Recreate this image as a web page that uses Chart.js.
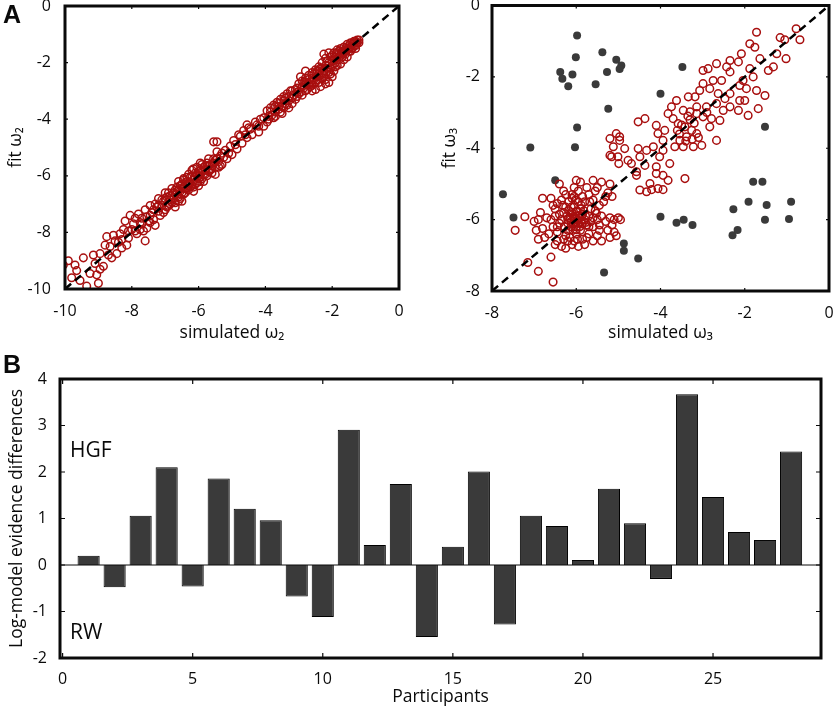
<!DOCTYPE html>
<html>
<head>
<meta charset="utf-8">
<script src="https://cdn.jsdelivr.net/npm/chart.js@4.4.1/dist/chart.umd.min.js"></script>
<style>
  body { margin: 0; background: #fff; width: 837px; height: 711px; position: relative; overflow: hidden; font-family: "Open Sans", sans-serif; }
  canvas { position: absolute; }
  .lbl { position: absolute; color: #0a0a0a; line-height: 1; }
  .panel { font-family: "Liberation Sans", Arial, sans-serif; font-weight: bold; font-size: 25px; }
  .model { font-size: 21px; }
</style>
</head>
<body>
<canvas id="omega2" width="420" height="345" style="left:0;top:0"></canvas>
<canvas id="omega3" width="417" height="345" style="left:420px;top:0"></canvas>
<canvas id="evidence" width="837" height="371" style="left:0;top:340px"></canvas>
<div class="lbl panel" style="left:3px;top:2px">A</div>
<div class="lbl panel" style="left:3px;top:352px">B</div>
<div class="lbl model" style="left:70px;top:439px">HGF</div>
<div class="lbl model" style="left:70px;top:621px">RW</div>
<script>
// panel A, left: simulated vs fitted omega2
const omega2Points = [
  [-10.05,-9.15],[-9.9,-9.0],[-9.8,-9.6],[-9.65,-9.35],[-9.35,-9.9],[-9.0,-9.8],[-9.45,-8.9],[-9.1,-9.1],
  [-8.85,-9.2],[-8.95,-8.75],[-8.65,-8.5],[-8.75,-8.15],[-8.45,-8.75],[-9.55,-9.7],[-9.25,-9.45],[-9.7,-9.15],
  [-9.15,-8.8],[-8.6,-8.9],[-8.8,-8.45],[-8.5,-8.3],[-8.3,-8.55],[-8.35,-8.05],[-8.2,-7.6],[-8.1,-8.2],
  [-8.25,-7.9],[-7.95,-7.7],[-7.85,-8.05],[-7.6,-8.3],[-7.7,-7.5],[-7.8,-7.35],[-7.5,-7.6],[-7.55,-7.85],
  [-7.4,-7.3],[-7.35,-7.55],[-7.25,-7.1],[-7.6,-7.2],[-8.05,-7.4],[-7.9,-7.95],[-7.3,-7.75],[-7.15,-7.4],
  [-7.05,-6.9],[-7.0,-7.2],[-6.9,-7.05],[-6.85,-6.7],[-6.8,-6.95],[-6.7,-6.5],[-6.75,-6.8],[-6.6,-6.75],
  [-6.65,-6.4],[-6.55,-6.55],[-6.5,-6.3],[-6.45,-6.65],[-6.4,-6.45],[-6.35,-6.2],[-6.3,-6.5],[-6.25,-6.05],
  [-6.2,-6.35],[-6.15,-6.15],[-6.1,-5.9],[-6.05,-6.25],[-6.0,-6.0],[-5.95,-5.8],[-5.9,-6.1],[-5.85,-5.7],
  [-5.8,-5.95],[-5.75,-5.55],[-5.7,-5.85],[-5.65,-5.6],[-5.6,-5.9],[-5.55,-5.4],[-5.5,-5.7],[-5.45,-5.15],
  [-5.4,-5.5],[-5.35,-5.3],[-5.3,-5.6],[-5.2,-5.1],[-5.15,-5.4],[-5.05,-4.95],[-5.0,-5.25],[-4.95,-4.75],
  [-4.85,-5.05],[-4.8,-4.55],[-4.7,-4.85],[-4.65,-4.4],[-4.55,-4.65],[-4.5,-4.3],[-4.4,-4.55],[-4.3,-4.1],
  [-4.2,-4.45],[-4.15,-4.0],[-4.05,-4.25],[-3.95,-3.7],[-3.9,-4.0],[-3.85,-3.6],[-3.8,-3.85],[-3.75,-3.5],
  [-3.7,-3.75],[-3.65,-3.4],[-3.6,-3.65],[-3.55,-3.3],[-3.5,-3.55],[-3.45,-3.2],[-3.4,-3.45],[-3.35,-3.1],
  [-3.3,-3.35],[-3.25,-3.0],[-3.2,-3.25],[-3.1,-2.95],[-3.05,-3.2],[-3.0,-2.75],[-2.95,-3.05],[-2.9,-2.65],
  [-2.85,-2.9],[-2.8,-2.55],[-2.75,-2.8],[-2.7,-2.45],[-2.65,-2.7],[-2.6,-2.35],[-2.55,-2.6],[-2.5,-2.25],
  [-2.45,-2.5],[-2.4,-2.15],[-2.35,-2.45],[-2.3,-2.0],[-2.25,-2.3],[-2.2,-1.85],[-2.15,-2.2],[-2.1,-2.7],
  [-2.05,-1.8],[-2.0,-2.1],[-1.95,-1.65],[-1.9,-2.0],[-1.85,-1.55],[-1.8,-1.9],[-1.75,-1.5],[-1.7,-1.8],
  [-1.65,-1.45],[-1.6,-1.7],[-1.55,-1.35],[-1.5,-1.6],[-1.45,-1.3],[-1.4,-1.5],[-1.35,-1.25],[-1.3,-1.4],
  [-1.25,-1.2],[-1.2,-1.3],
  [-6.9,-6.6],[-6.7,-7.1],[-6.5,-6.9],[-6.35,-6.05],[-6.2,-5.8],[-6.05,-5.7],[-6.0,-6.35],[-5.85,-6.2],
  [-5.95,-5.55],[-6.15,-6.55],[-6.3,-5.95],[-6.45,-6.1],[-6.6,-6.2],[-6.8,-6.45],[-7.0,-6.6],[-7.1,-7.05],
  [-7.2,-6.8],[-7.45,-7.05],[-5.7,-5.4],[-5.6,-5.65],[-5.5,-5.95],[-5.25,-5.35],[-5.45,-4.8],[-5.55,-4.8],
  [-4.55,-4.2],[-4.2,-4.25],[-4.6,-4.55],[-4.75,-4.6],[-3.9,-3.9],[-3.75,-3.95],[-3.6,-3.45],[-3.5,-3.8],
  [-3.4,-3.25],[-3.3,-3.6],[-3.2,-3.0],[-3.1,-3.3],[-3.0,-3.1],[-2.9,-2.85],[-2.8,-3.0],[-2.7,-2.75],
  [-2.6,-2.55],[-2.5,-2.7],[-2.4,-2.4],[-2.3,-2.55],[-2.2,-2.1],[-2.1,-2.35],[-2.0,-1.75],[-1.9,-1.8],
  [-1.8,-1.7],[-1.7,-1.6],[-1.6,-1.5],[-1.5,-1.4],[-1.4,-1.35],[-1.3,-1.25],[-2.05,-2.2],[-2.25,-1.7],
  [-2.1,-1.65],[-1.95,-2.3],[-1.75,-2.05],[-1.65,-1.9],[-2.35,-2.85],[-2.5,-2.95],[-2.65,-2.85],[-2.8,-2.3],
  [-2.95,-2.5],[-8.95,-9.3],[-9.05,-9.5],[-8.7,-8.8],[-8.55,-8.1],[-8.4,-8.35],[-8.15,-8.45],[-8.0,-7.9],
  [-7.75,-7.65],[-7.65,-7.95],[-7.45,-7.4],[-7.2,-7.25],
  [-6.95,-6.75],[-6.85,-7.0],[-6.7,-6.65],[-6.55,-6.35],[-6.4,-6.6],[-6.25,-6.4],[-6.1,-6.05],[-5.95,-6.2],
  [-5.8,-5.65],[-5.65,-5.8],[-5.5,-5.45],[-5.35,-5.65],[-6.6,-6.9],[-6.45,-6.15],[-6.3,-6.25],[-6.15,-5.75],
  [-6.0,-5.85],[-5.85,-5.95],[-7.3,-7.0],[-7.45,-7.65],[-7.05,-7.3],[-7.75,-7.9],[-7.9,-7.5],[-8.1,-7.95],
  [-8.3,-8.25],[-3.7,-3.55],[-3.55,-3.75],[-3.45,-3.35],[-3.35,-3.5],[-3.15,-3.15],[-3.05,-2.9],[-2.85,-2.7],
  [-2.75,-2.95],[-2.6,-2.8],[-2.55,-2.4],[-2.45,-2.3],[-2.35,-2.2],[-2.25,-2.45],[-2.15,-1.95],[-2.05,-2.4],
  [-1.95,-1.9],[-1.85,-2.1],[-1.75,-1.75],[-1.65,-1.65],[-1.55,-1.55],[-1.45,-1.45],[-1.35,-1.4],[-1.25,-1.3],
  [-1.55,-1.8],[-1.85,-1.65],[-2.0,-2.5],[-2.2,-2.6],[-4.05,-3.95],[-3.95,-4.1],[-4.25,-4.2],[-4.9,-4.9],
  [-5.1,-5.2],[-4.45,-4.35],
  [-7.0,-6.8],[-6.95,-7.1],[-6.85,-6.85],[-6.75,-6.6],[-6.7,-6.95],[-6.6,-6.5],[-6.55,-6.8],[-6.45,-6.45],
  [-6.4,-6.25],[-6.35,-6.45],[-6.25,-6.25],[-6.2,-6.0],[-6.1,-6.3],[-6.05,-5.95],[-5.95,-6.05],[-5.9,-5.85],
  [-5.8,-5.8],[-5.75,-6.0],[-5.7,-5.65],[-5.6,-5.75],[-5.55,-5.55],[-5.45,-5.4],[-5.4,-5.7],[-5.3,-5.2],
  [-6.65,-6.55],[-6.5,-6.6],[-6.3,-6.35],[-6.15,-6.4],[-6.0,-6.1],[-5.9,-5.6],[-7.1,-6.85],[-7.2,-7.05],
  [-7.35,-7.2],[-7.55,-7.45],[-7.7,-7.7],[-3.85,-3.75],[-3.7,-3.9],[-3.6,-3.55],[-3.45,-3.6],[-3.3,-3.2],
  [-3.2,-3.45],[-3.05,-3.05],[-2.9,-3.15],[-2.8,-2.75],[-2.7,-2.6],[-2.6,-2.7],[-2.45,-2.6],[-2.4,-2.3],
  [-2.3,-2.2],[-2.2,-2.4],[-2.1,-2.0],[-2.0,-1.95],[-1.9,-2.15],[-1.8,-1.6],[-1.7,-1.7],[-1.6,-1.6],
  [-1.5,-1.5],[-1.45,-1.6],[-1.35,-1.3],[-1.3,-1.5],[-1.2,-1.2],[-2.2,-2.75],[-2.4,-2.7],[-2.6,-3.0]
];

// panel A, right: omega3 recovered (open circles) and not recovered (filled)
const omega3Recovered = [
  [-1.72,-0.75],[-0.78,-0.65],[-0.69,-0.96],[-1.16,-0.9],[-1.05,-0.96],[-1.02,-1.49],[-1.24,-1.35],[-1.88,-1.07],
  [-1.76,-1.17],[-2.08,-1.35],[-2.35,-1.54],[-2.15,-1.58],[-1.64,-1.49],[-1.32,-1.72],[-1.44,-1.82],[-1.88,-1.77],
  [-1.8,-2.0],[-2.04,-2.1],[-2.43,-1.72],[-2.35,-1.86],[-2.67,-1.63],[-2.99,-1.82],[-2.87,-1.77],[-2.75,-2.1],
  [-2.55,-2.1],[-2.12,-2.24],[-1.96,-2.33],[-1.72,-2.38],[-1.52,-2.52],[-1.68,-2.89],[-2.12,-2.66],[-2.35,-2.47],
  [-2.47,-2.61],[-2.63,-2.47],[-2.83,-2.33],[-2.99,-2.19],[-3.07,-2.38],[-3.18,-2.56],[-3.34,-2.56],[-3.14,-2.84],
  [-2.91,-2.84],[-2.67,-2.75],[-2.51,-2.94],[-2.35,-2.84],[-2.15,-2.94],[-1.92,-3.08],[-2.59,-3.22],[-2.79,-3.17],
  [-2.99,-3.12],[-3.14,-3.03],[-3.3,-2.98],[-3.46,-2.94],[-3.62,-2.66],[-3.74,-2.84],[-3.82,-3.03],[-3.7,-3.17],
  [-3.58,-3.31],[-3.42,-3.4],[-3.26,-3.5],[-3.14,-3.59],[-3.38,-3.68],[-3.54,-3.78],[-3.46,-3.96],[-3.22,-3.96],
  [-3.02,-3.92],[-2.83,-3.4],[-2.67,-3.78],[-3.66,-3.96],[-3.94,-3.78],[-4.06,-3.59],[-4.1,-3.36],[-3.9,-3.5],
  [-3.94,-4.06],[-3.78,-4.43],[-4.02,-4.24],[-4.17,-3.96],[-4.33,-4.06],[-4.49,-4.24],[-4.37,-4.48],[-4.1,-4.52],
  [-3.94,-4.76],[-3.82,-4.9],[-4.1,-4.71],[-4.25,-4.99],[-4.06,-5.13],[-3.94,-5.16],[-4.21,-5.16],[-4.33,-5.22],
  [-4.49,-5.17],[-4.57,-4.66],[-4.69,-4.43],[-4.53,-4.01],[-4.37,-3.17],[-4.53,-3.26],[-4.77,-4.34],[-5.01,-4.24],
  [-5.16,-4.24],[-5.2,-4.2],[-5.12,-3.96],[-4.97,-3.78],[-4.85,-4.01],[-5.05,-3.59],[-4.97,-3.68],[-5.2,-3.73],
  [-4.99,-4.43],[-4.57,-4.76],[-3.42,-4.85],[-2.0,-2.66],[-3.3,-3.2],[-3.5,-3.35],[-3.2,-3.3],[-3.4,-3.8],
  [-3.6,-3.5],[-3.1,-3.7],[-2.9,-3.0],[-3.35,-3.1],[-3.55,-3.6],[-3.25,-3.75],
  [-6.0,-5.9],[-6.05,-6.0],[-5.95,-6.1],[-6.1,-5.8],[-5.9,-5.7],[-6.2,-6.1],[-5.8,-6.0],[-6.0,-6.2],
  [-6.15,-5.95],[-5.85,-5.85],[-6.05,-5.6],[-5.95,-5.5],[-6.1,-5.4],[-5.9,-6.3],[-6.0,-6.4],[-6.2,-6.3],
  [-5.75,-6.15],[-5.7,-5.9],[-6.3,-5.8],[-6.25,-5.65],[-6.35,-6.0],[-5.65,-6.05],[-5.6,-5.95],[-6.4,-6.1],
  [-5.8,-5.5],[-6.1,-5.3],[-5.95,-5.2],[-6.05,-5.1],[-6.0,-4.9],[-5.9,-4.95],[-6.15,-6.5],[-5.85,-6.55],
  [-6.05,-6.6],[-6.2,-6.6],[-5.7,-6.4],[-6.45,-6.35],[-6.5,-5.9],[-6.55,-6.2],[-6.6,-6.0],[-6.7,-5.95],
  [-6.65,-6.4],[-6.75,-6.5],[-6.5,-6.7],[-6.3,-6.55],[-5.5,-6.0],[-5.4,-5.9],[-5.3,-6.05],[-5.2,-5.95],
  [-5.1,-6.0],[-5.0,-5.95],[-4.95,-6.0],[-5.15,-6.15],[-5.25,-6.3],[-5.1,-6.35],[-5.05,-6.45],[-5.2,-6.5],
  [-5.45,-6.3],[-5.5,-6.45],[-5.6,-6.6],[-5.4,-6.6],[-5.55,-5.75],[-5.45,-5.6],[-5.6,-5.45],[-5.7,-5.3],
  [-5.75,-5.1],[-5.55,-5.2],[-5.35,-5.5],[-5.5,-5.1],[-5.6,-4.9],[-5.4,-4.95],[-5.2,-5.0],[-5.25,-5.25],
  [-5.3,-5.35],[-5.15,-5.35],[-6.25,-5.3],[-6.35,-5.45],[-6.45,-5.55],[-6.5,-5.7],[-6.3,-5.2],[-6.4,-5.0],
  [-6.6,-5.4],[-6.8,-5.4],[-6.85,-5.8],[-6.9,-6.0],[-7.0,-6.05],[-6.95,-6.3],[-6.8,-6.25],[-6.9,-6.55],
  [-7.22,-5.92],[-7.45,-6.3],[-6.45,-6.6],[-6.35,-6.75],[-6.25,-6.8],[-6.1,-6.7],[-5.95,-6.75],[-5.8,-6.7],
  [-6.6,-7.05],[-7.15,-7.2],[-6.9,-7.45],[-6.55,-7.75],[-5.98,-5.75],[-6.08,-5.85],[-5.92,-5.95],[-6.02,-6.08],
  [-6.12,-6.05],[-5.88,-6.05],[-6.18,-5.75],[-5.82,-5.75],[-6.08,-6.3],[-5.92,-6.2],[-6.22,-5.9],[-5.78,-5.9],
  [-6.02,-5.45],[-6.12,-6.2],[-5.7,-6.2],[-6.28,-6.2],[-5.65,-5.7],[-6.32,-5.6],
  [-6.03,-5.95],[-5.97,-6.02],[-6.07,-6.12],[-5.93,-5.88],[-6.14,-6.0],[-5.86,-6.12],[-6.0,-5.78],[-6.0,-6.28],
  [-6.2,-6.0],[-5.78,-6.08],[-6.12,-5.65],[-5.88,-5.6],[-6.25,-6.45],[-5.75,-6.5],[-6.4,-5.85],[-5.6,-6.2],
  [-5.52,-5.82],[-6.45,-6.2],[-5.97,-6.55],[-6.05,-5.35],[-5.85,-5.35],[-6.18,-5.5],[-5.68,-5.5],[-6.55,-5.6],
  [-5.45,-6.15]
];
const omega3Failed = [
  [-5.98,-0.84],[-6.01,-1.45],[-5.38,-1.31],[-5.05,-1.52],[-4.93,-1.68],[-4.97,-1.78],[-6.38,-1.86],[-6.33,-2.05],
  [-6.19,-2.26],[-6.09,-1.93],[-5.27,-1.86],[-5.54,-2.21],[-3.48,-1.72],[-4.0,-2.47],[-5.24,-2.89],[-5.98,-3.42],
  [-7.09,-3.98],[-6.03,-3.97],[-1.52,-3.4],[-7.74,-5.29],[-7.49,-5.94],[-6.5,-4.9],[-4.0,-5.92],[-3.62,-6.09],
  [-3.45,-6.0],[-3.24,-6.15],[-4.87,-6.67],[-4.87,-6.87],[-4.53,-7.09],[-5.34,-7.48],[-2.27,-5.71],[-2.29,-6.44],
  [-2.17,-6.29],[-1.91,-5.5],[-1.8,-4.94],[-1.58,-4.94],[-1.48,-5.59],[-1.52,-6.0],[-0.9,-5.5],[-0.95,-5.98]
];

// panel B
const participants = [1,2,3,4,5,6,7,8,9,10,11,12,13,14,15,16,17,18,19,20,21,22,23,24,25,26,27,28];
const evidenceDiff = [0.2,-0.48,1.06,2.1,-0.46,1.86,1.21,0.96,-0.68,-1.12,2.91,0.43,1.74,-1.55,
                      0.39,2.01,-1.28,1.06,0.84,0.11,1.64,0.9,-0.3,3.67,1.46,0.71,0.54,2.44];
const participantTicks = [0,5,10,15,20,25];

const ink = "#0a0a0a";
const red = "#a80f0f";
const grey = "#3a3a3a";
const tickFont = { family: "Open Sans", size: 16 };
const titleFont = { family: "Open Sans", size: 17.5 };

const frame = {
  id: "frame",
  afterDatasetsDraw(chart, args, opts) {
    const { ctx, chartArea: a, scales } = chart;
    ctx.save();
    ctx.strokeStyle = ink;
    if (opts.zeroLine) {
      const y0 = scales.y.getPixelForValue(0);
      ctx.lineWidth = 1;
      ctx.beginPath();
      ctx.moveTo(a.left, y0);
      ctx.lineTo(a.right, y0);
      ctx.stroke();
    }
    ctx.lineWidth = opts.tickWidth;
    ctx.beginPath();
    scales.x.ticks.forEach(t => {
      const px = scales.x.getPixelForValue(t.value);
      ctx.moveTo(px, a.bottom); ctx.lineTo(px, a.bottom - opts.tick);
      ctx.moveTo(px, a.top); ctx.lineTo(px, a.top + opts.tick);
    });
    scales.y.ticks.forEach(t => {
      const py = scales.y.getPixelForValue(t.value);
      ctx.moveTo(a.left, py); ctx.lineTo(a.left + opts.tick, py);
      ctx.moveTo(a.right, py); ctx.lineTo(a.right - opts.tick, py);
    });
    ctx.stroke();
    ctx.lineWidth = opts.width;
    ctx.strokeRect(a.left, a.top, a.right - a.left, a.bottom - a.top);
    ctx.restore();
  }
};

function fixSize(prop, size) {
  return s => {
    s[prop] = size;
    s.paddingTop = 0; s.paddingBottom = 0; s.paddingLeft = 0; s.paddingRight = 0;
  };
}

function scatterChart(id, points, failed, lo, xTitle, yTitle, box) {
  const datasets = [{
    data: points.map(p => ({ x: p[0], y: p[1] })),
    pointRadius: 3.8,
    pointBorderWidth: 1.5,
    pointBorderColor: red,
    pointBackgroundColor: "rgba(0,0,0,0)",
    order: 2
  }];
  if (failed) {
    datasets.push({
      data: failed.map(p => ({ x: p[0], y: p[1] })),
      pointRadius: 4,
      pointBorderWidth: 0,
      pointBackgroundColor: grey,
      order: 3
    });
  }
  datasets.push({
    type: "line",
    data: [{ x: lo, y: lo }, { x: 0, y: 0 }],
    borderColor: "#000",
    borderWidth: 2.5,
    borderDash: [8, 5],
    pointRadius: 0,
    order: 1
  });

  return new Chart(document.getElementById(id), {
    type: "scatter",
    data: { datasets },
    plugins: [frame],
    options: {
      responsive: false,
      animation: false,
      layout: { padding: { top: box.top, right: box.right, left: 0, bottom: 0 } },
      plugins: {
        legend: { display: false },
        tooltip: { enabled: false },
        frame: { width: 3, tick: 3, tickWidth: 1.2 }
      },
      scales: {
        x: {
          type: "linear", min: lo, max: 0,
          afterFit: fixSize("height", box.xh),
          grid: { display: false, drawTicks: false },
          border: { display: false },
          ticks: { stepSize: 2, color: ink, font: tickFont, padding: 13, maxRotation: 0 },
          title: { display: true, text: xTitle, color: ink, font: titleFont, padding: { top: 0, bottom: 1.5 } }
        },
        y: {
          type: "linear", min: lo, max: 0,
          afterFit: fixSize("width", box.yw),
          grid: { display: false, drawTicks: false },
          border: { display: false },
          ticks: { stepSize: 2, color: ink, font: tickFont, padding: box.ypad },
          title: { display: true, text: yTitle, color: ink, font: titleFont, padding: { top: box.ytp, bottom: 0 } }
        }
      }
    }
  });
}

scatterChart("omega2", omega2Points, null, -10, "simulated ω₂", "fit ω₂",
  { top: 6, right: 21, xh: 56, yw: 65, ypad: 14, ytp: 5.5 });
scatterChart("omega3", omega3Recovered, omega3Failed, -8, "simulated ω₃", "fit ω₃",
  { top: 4, right: 8, xh: 54, yw: 72, ypad: 12, ytp: 19.5 });

new Chart(document.getElementById("evidence"), {
  type: "bar",
  data: {
    datasets: [{
      data: participants.map((p, i) => ({ x: p, y: evidenceDiff[i] })),
      backgroundColor: grey,
      borderColor: "#000",
      borderWidth: 1,
      categoryPercentage: 1,
      barPercentage: 0.85
    }]
  },
  plugins: [frame],
  options: {
    responsive: false,
    animation: false,
    layout: { padding: { top: 39, right: 16, left: 0, bottom: 0 } },
    plugins: {
      legend: { display: false },
      tooltip: { enabled: false },
      frame: { width: 3, tick: 5, tickWidth: 1.2, zeroLine: true }
    },
    scales: {
      x: {
        type: "linear", min: -0.1, max: 29.15, offset: false,
        afterFit: fixSize("height", 53),
        afterBuildTicks: s => { s.ticks = participantTicks.map(v => ({ value: v })); },
        grid: { display: false, drawTicks: false },
        border: { display: false },
        ticks: { color: ink, font: tickFont, padding: 12, maxRotation: 0 },
        title: { display: true, text: "Participants", color: ink, font: titleFont, padding: { top: 0, bottom: 3.5 } }
      },
      y: {
        min: -2, max: 4,
        afterFit: fixSize("width", 60),
        grid: { display: false, drawTicks: false },
        border: { display: false },
        ticks: { stepSize: 1, color: ink, font: tickFont, padding: 13 },
        title: { display: true, text: "Log-model evidence differences", color: ink, font: titleFont, padding: { top: 6.5, bottom: 0 } }
      }
    }
  }
});
</script>
</body>
</html>
